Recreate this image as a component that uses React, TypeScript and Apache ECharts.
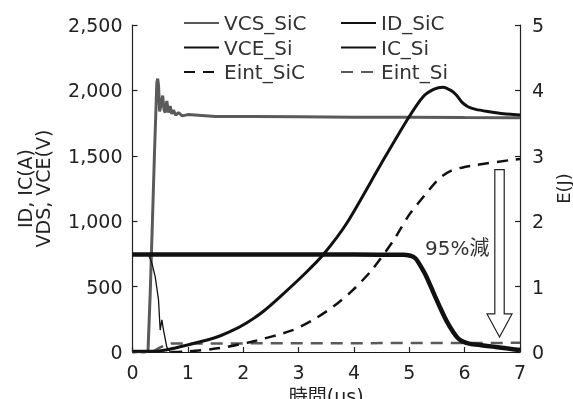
import React, { useEffect, useRef } from "react";
import * as echarts from "echarts";

// time in μs, values in V / A (left axis) or J (right axis)
const vcsSiC: [number, number][] = [
  [0, -5], [0.1, 5], [0.2, -5], [0.28, 5], [0.32, 450], [0.36, 1000], [0.4, 1560], [0.44, 2060],
  [0.455, 2090], [0.47, 2040], [0.49, 1840], [0.52, 1900], [0.545, 1960], [0.57, 1850], [0.59, 1830],
  [0.62, 1920], [0.65, 1830], [0.68, 1880], [0.71, 1820], [0.74, 1850], [0.78, 1810], [0.83, 1830],
  [0.9, 1805], [1.0, 1815], [1.5, 1800], [2, 1800], [3, 1798], [4, 1795], [5, 1795], [6, 1792], [7, 1790],
];
const idSiC: [number, number][] = [
  [0, 745], [0.29, 742], [0.35, 680], [0.41, 576], [0.47, 398], [0.5, 168], [0.53, 245], [0.56, 168],
  [0.62, 38], [0.68, 2], [0.8, -5], [1.5, -5], [3, -5], [5, -5], [7, -5],
];
const vceSi: [number, number][] = [
  [0, 5], [0.4, 5], [0.6, 15], [0.86, 40], [1.46, 105], [1.76, 155], [2.06, 222], [2.36, 310],
  [2.66, 420], [3.14, 610], [3.44, 741], [3.87, 984], [4.5, 1445], [4.98, 1787], [5.25, 1952],
  [5.45, 2010], [5.61, 2024], [5.75, 2000], [5.85, 1965], [5.95, 1910], [6.06, 1875], [6.2, 1855],
  [6.45, 1837], [6.7, 1822], [7, 1812],
];
const icSi: [number, number][] = [
  [0, 745], [2, 745], [4, 745], [4.9, 743], [4.98, 740], [5.05, 732], [5.12, 712], [5.2, 660],
  [5.31, 576], [5.43, 460], [5.55, 346], [5.67, 240], [5.79, 155], [5.88, 105], [5.97, 79],
  [6.1, 62], [6.3, 52], [6.51, 41], [6.75, 28], [7, 15],
];
const eintSiC: [number, number][] = [
  [0.7, 0], [1.0, 0.01], [1.58, 0.06], [2.17, 0.16], [2.88, 0.33], [3.28, 0.5], [3.62, 0.69],
  [3.96, 0.93], [4.32, 1.25], [4.71, 1.7], [5.0, 2.1], [5.31, 2.43], [5.55, 2.66], [5.75, 2.77],
  [6.0, 2.83], [6.21, 2.86], [6.87, 2.94], [7, 2.95],
];
const eintSi: [number, number][] = [
  [0, 0], [0.3, 0], [0.4, 0.02], [0.5, 0.07], [0.6, 0.11], [0.7, 0.13], [1, 0.13], [7, 0.14],
];
// arrow: [time, E top, E tip]
const arrowData = [[6.63, 2.79, 0.23]];
const annotationData = [[6.45, 1.59]];
const annotationText = "95%減";

const xTicks = { min: 0, max: 7, interval: 1 };
const yLeftTicks = { min: 0, max: 2500, interval: 500 };
const yRightTicks = { min: 0, max: 5, interval: 1 };

const FONT = "'DejaVu Sans', 'Noto Sans CJK JP', sans-serif";
const GRAY = "#5a5a5a";
const BLACK = "#111";
const TEXT = "#222";

export default function App() {
  const ref = useRef<HTMLDivElement>(null);
  useEffect(() => {
    if (!ref.current) return;
    const chart = echarts.init(ref.current, null, { renderer: "svg" });
    const axisCommon = {
      axisLine: { show: true, lineStyle: { color: TEXT, width: 1.2 } },
      axisTick: { show: true, inside: true, length: 5, lineStyle: { color: TEXT, width: 1.2 } },
      splitLine: { show: false },
      nameTextStyle: { color: TEXT, fontFamily: FONT, fontSize: 19 },
    };
    const legendCommon = {
      orient: "vertical",
      top: 13,
      padding: 0,
      itemWidth: 35,
      itemHeight: 14,
      itemGap: 4.5,
      itemStyle: { opacity: 0 },
      textStyle: { fontFamily: FONT, fontSize: 20, color: "#333", lineHeight: 20 },
      selectedMode: false,
    };
    chart.setOption({
      animation: false,
      grid: { left: 132.5, right: 53, top: 25, bottom: 47, containLabel: false, outerBoundsMode: "none" },
      legend: [
        { ...legendCommon, left: 183, data: ["VCS_SiC", "VCE_Si", "Eint_SiC"] },
        { ...legendCommon, left: 340, data: ["ID_SiC", "IC_Si", "Eint_Si"] },
      ],
      xAxis: {
        type: "value",
        ...xTicks,
        ...axisCommon,
        name: "時間(μs)",
        nameLocation: "middle",
        nameGap: 34,
        axisLabel: { color: TEXT, fontFamily: FONT, fontSize: 19, margin: 10 },
      },
      yAxis: [
        {
          type: "value",
          ...yLeftTicks,
          ...axisCommon,
          name: "ID, IC(A)\nVDS, VCE(V)",
          nameLocation: "middle",
          nameGap: 81,
          nameRotate: 90,
          nameTextStyle: { ...axisCommon.nameTextStyle, lineHeight: 18 },
          axisLabel: {
            color: TEXT, fontFamily: FONT, fontSize: 19, margin: 10,
            formatter: (v: number) => v.toLocaleString("en-US"),
          },
        },
        {
          type: "value",
          position: "right",
          ...yRightTicks,
          ...axisCommon,
          name: "E(J)",
          nameLocation: "middle",
          nameGap: 27,
          nameRotate: 90,
          nameTextStyle: { ...axisCommon.nameTextStyle, fontSize: 18 },
          axisLabel: { color: TEXT, fontFamily: FONT, fontSize: 19, margin: 12 },
        },
      ],
      series: [
        {
          name: "Eint_Si", type: "line", yAxisIndex: 1, data: eintSi, symbol: "none",
          lineStyle: { color: GRAY, width: 2.5, type: [12, 8] }, itemStyle: { color: GRAY },
        },
        {
          name: "Eint_SiC", type: "line", yAxisIndex: 1, data: eintSiC, symbol: "none", smooth: 0.25,
          lineStyle: { color: BLACK, width: 2.5, type: [11, 8] }, itemStyle: { color: BLACK },
        },
        {
          name: "VCS_SiC", type: "line", data: vcsSiC, symbol: "none",
          lineStyle: { color: GRAY, width: 3 }, itemStyle: { color: GRAY },
        },
        {
          name: "ID_SiC", type: "line", data: idSiC, symbol: "none",
          lineStyle: { color: BLACK, width: 1.3 }, itemStyle: { color: BLACK },
        },
        {
          name: "VCE_Si", type: "line", data: vceSi, symbol: "none", smooth: 0.25,
          lineStyle: { color: BLACK, width: 3 }, itemStyle: { color: BLACK },
        },
        {
          name: "IC_Si", type: "line", data: icSi, symbol: "none", smooth: 0.2,
          lineStyle: { color: BLACK, width: 4.5 }, itemStyle: { color: BLACK },
        },
        {
          name: "arrow", type: "custom", yAxisIndex: 1, data: arrowData, silent: true,
          renderItem: (_p: any, api: any) => {
            const x = api.value(0);
            const pTop = api.coord([x, api.value(1)]);
            const pTip = api.coord([x, api.value(2)]);
            const headH = 23, shaftW = 4.7, headW = 12.5;
            const cx = pTop[0];
            const baseY = pTip[1] - headH;
            return {
              type: "polygon",
              shape: {
                points: [
                  [cx - shaftW, pTop[1]], [cx + shaftW, pTop[1]], [cx + shaftW, baseY],
                  [cx + headW, baseY], [cx, pTip[1]], [cx - headW, baseY], [cx - shaftW, baseY],
                ],
              },
              style: { fill: "#fff", stroke: TEXT, lineWidth: 1.2 },
            };
          },
        },
        {
          name: "note", type: "custom", yAxisIndex: 1, data: annotationData, silent: true,
          renderItem: (_p: any, api: any) => {
            const p = api.coord([api.value(0), api.value(1)]);
            return {
              type: "text",
              x: p[0], y: p[1],
              style: {
                text: annotationText, fill: "#333", font: `20px ${FONT}`,
                align: "right", verticalAlign: "middle",
              },
            };
          },
        },
      ],
    });
    return () => chart.dispose();
  }, []);
  return <div ref={ref} style={{ position: "fixed", left: 0, top: 0, width: 573, height: 399 }} />;
}
